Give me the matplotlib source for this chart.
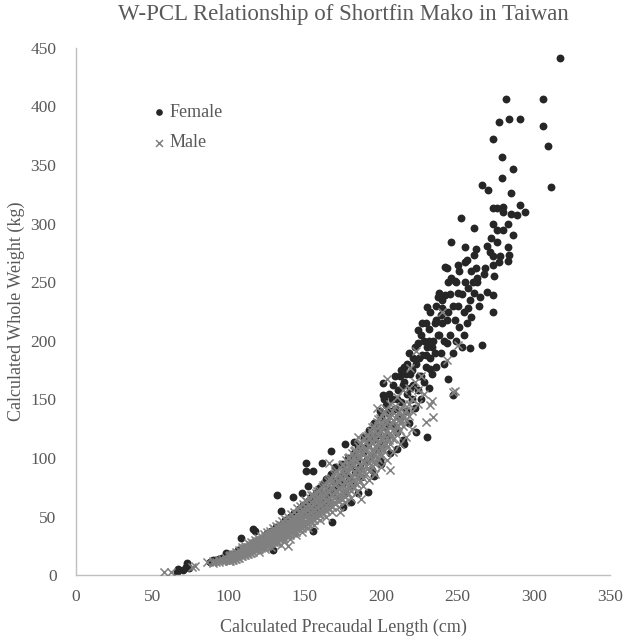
import matplotlib.pyplot as plt

# (precaudal length cm, whole weight kg)
female_points = [
    (66, 3), (67, 5), (70, 4), (72, 7), (73, 10), (74, 6), (88, 11), (90, 13),
    (92, 13), (94, 14), (96, 15), (98, 19), (100, 16), (101, 14), (103, 18),
    (105, 17), (106, 21), (108, 32), (109, 20), (111, 23), (113, 22), (114, 26),
    (116, 39), (117, 38), (118, 25), (119, 29), (121, 28), (122, 32), (124, 30),
    (125, 36), (127, 33), (128, 38), (129, 21), (130, 35), (131, 41), (132, 68),
    (133, 37), (134, 55), (135, 44), (136, 40), (137, 47), (139, 43), (140, 50),
    (141, 45), (142, 67), (143, 53), (144, 48), (146, 56), (147, 51), (148, 70),
    (149, 60), (150, 54), (151, 89), (151, 96), (152, 76), (152, 63), (153, 58),
    (154, 67), (155, 89), (155, 52), (155, 38), (156, 61), (157, 70), (158, 57),
    (159, 74), (160, 65), (161, 96), (161, 58), (162, 78), (163, 68), (164, 82),
    (165, 62), (166, 73), (167, 106), (167, 86), (168, 70), (168, 45), (169, 80),
    (170, 92), (171, 75), (172, 66), (173, 84), (174, 95), (175, 79), (175, 58),
    (176, 112), (176, 70), (177, 89), (178, 100), (179, 83), (180, 94), (180, 62),
    (181, 76), (182, 114), (182, 104), (183, 88), (184, 98), (185, 110), (185, 70),
    (186, 92), (187, 84), (188, 105), (189, 118), (190, 97), (191, 112), (191, 71),
    (192, 124), (193, 102), (193, 118), (194, 90), (195, 116), (195, 85), (195, 130),
    (196, 130), (197, 108), (197, 125), (198, 120), (199, 98), (199, 140), (200, 135),
    (200, 95), (201, 164), (201, 154), (201, 112), (202, 126), (202, 150), (203, 145),
    (204, 118), (204, 130), (205, 138), (205, 155), (206, 104), (206, 140), (207, 150),
    (208, 128), (208, 162), (209, 142), (209, 170), (210, 122), (210, 108), (210, 150),
    (211, 158), (212, 134), (212, 170), (213, 148), (213, 175), (214, 115), (214, 162),
    (215, 165), (215, 112), (215, 178), (216, 140), (216, 172), (217, 155), (217, 180),
    (218, 130), (218, 190), (219, 172), (219, 160), (220, 150), (220, 175), (221, 162),
    (221, 185), (222, 143), (222, 195), (223, 180), (223, 122), (224, 209), (224, 198),
    (224, 158), (225, 170), (225, 185), (226, 150), (226, 205), (226, 170), (227, 188),
    (227, 215), (228, 165), (228, 200), (229, 178), (229, 215), (229, 188), (230, 229),
    (230, 195), (230, 118), (231, 160), (231, 210), (231, 200), (232, 185), (232, 225),
    (232, 176), (233, 172), (233, 195), (234, 200), (235, 190), (235, 215), (236, 178),
    (236, 230), (236, 218), (237, 237), (237, 205), (238, 241), (238, 205), (239, 190),
    (239, 222), (240, 215), (240, 235), (240, 228), (241, 180), (241, 200), (242, 239),
    (242, 263), (243, 262), (243, 198), (243, 218), (244, 167), (244, 225), (244, 250),
    (245, 205), (245, 240), (246, 254), (246, 284), (247, 154), (247, 190), (247, 230),
    (248, 251), (248, 218), (249, 200), (249, 250), (250, 241), (250, 230), (250, 265),
    (251, 212), (251, 260), (252, 305), (253, 195), (253, 240), (254, 225), (254, 205),
    (255, 267), (255, 250), (255, 280), (256, 269), (256, 215), (257, 245), (257, 228),
    (258, 194), (258, 235), (259, 220), (259, 260), (260, 250), (261, 273), (261, 296),
    (261, 241), (262, 278), (262, 262), (263, 254), (263, 250), (264, 230), (265, 237),
    (266, 196), (266, 333), (267, 257), (268, 262), (269, 281), (269, 242), (270, 329),
    (271, 276), (272, 288), (273, 239), (273, 225), (273, 265), (273, 272), (273, 300),
    (273, 313), (273, 372), (274, 255), (276, 313), (276, 295), (276, 284), (277, 267),
    (277, 387), (278, 272), (279, 357), (279, 339), (280, 314), (280, 310), (280, 295),
    (282, 406), (283, 300), (283, 280), (283, 268), (284, 273), (284, 389), (285, 326),
    (285, 308), (286, 290), (286, 347), (289, 307), (291, 316), (291, 389), (294, 310),
    (306, 406), (306, 383), (309, 366), (311, 331), (317, 441),
]

male_points = [
    (58, 3), (62, 3), (76, 7), (78, 8), (86, 11), (90, 10), (90, 12), (92, 11),
    (94, 13), (94, 11), (96, 12), (96, 14), (98, 13), (98, 15), (100, 12), (100, 14),
    (100, 16), (101, 12), (101, 15), (101, 17), (102, 13), (102, 15), (102, 17),
    (103, 13), (103, 16), (103, 18), (104, 14), (104, 16), (104, 18), (105, 14),
    (105, 17), (105, 20), (106, 15), (106, 17), (106, 19), (107, 15), (107, 18),
    (107, 21), (108, 16), (108, 18), (108, 20), (109, 16), (109, 19), (109, 22),
    (109, 24), (110, 17), (110, 19), (110, 21), (110, 23), (111, 17), (111, 20),
    (111, 23), (111, 25), (112, 18), (112, 20), (112, 22), (112, 24), (113, 18),
    (113, 21), (113, 24), (113, 27), (114, 19), (114, 21), (114, 24), (114, 26),
    (115, 19), (115, 23), (115, 26), (115, 28), (116, 20), (116, 23), (116, 25),
    (116, 27), (117, 21), (117, 24), (117, 27), (117, 30), (118, 22), (118, 24),
    (118, 27), (118, 29), (119, 22), (119, 26), (119, 29), (119, 32), (120, 20),
    (120, 22), (120, 25), (120, 27), (120, 30), (121, 23), (121, 27), (121, 30),
    (121, 33), (122, 24), (122, 26), (122, 29), (122, 31), (123, 24), (123, 28),
    (123, 31), (123, 35), (124, 22), (124, 25), (124, 27), (124, 30), (124, 33),
    (125, 25), (125, 29), (125, 33), (125, 37), (126, 26), (126, 29), (126, 31),
    (126, 34), (127, 27), (127, 31), (127, 35), (127, 38), (128, 24), (128, 27),
    (128, 30), (128, 33), (128, 36), (129, 28), (129, 32), (129, 36), (129, 40),
    (130, 28), (130, 31), (130, 34), (130, 37), (130, 39), (131, 29), (131, 34),
    (131, 38), (131, 42), (132, 27), (132, 29), (132, 33), (132, 35), (132, 38),
    (132, 41), (133, 31), (133, 35), (133, 39), (133, 44), (134, 26), (134, 31),
    (134, 34), (134, 37), (134, 40), (134, 43), (135, 32), (135, 37), (135, 41),
    (135, 46), (136, 29), (136, 32), (136, 35), (136, 38), (136, 41), (136, 44),
    (137, 34), (137, 39), (137, 43), (137, 48), (138, 33), (138, 36), (138, 40),
    (138, 43), (138, 46), (139, 25), (139, 35), (139, 40), (139, 45), (139, 50),
    (140, 31), (140, 34), (140, 38), (140, 41), (140, 44), (140, 48), (141, 37),
    (141, 42), (141, 47), (141, 52), (142, 36), (142, 39), (142, 43), (142, 46),
    (142, 50), (143, 38), (143, 44), (143, 49), (143, 54), (144, 34), (144, 37),
    (144, 41), (144, 45), (144, 48), (144, 52), (145, 40), (145, 46), (145, 51),
    (145, 57), (146, 39), (146, 43), (146, 46), (146, 50), (146, 54), (147, 42),
    (147, 48), (147, 53), (147, 59), (148, 37), (148, 40), (148, 44), (148, 48),
    (148, 52), (148, 56), (149, 43), (149, 49), (149, 55), (149, 61), (150, 42),
    (150, 46), (150, 50), (150, 54), (150, 58), (150, 64), (151, 45), (151, 51),
    (151, 57), (151, 63), (152, 40), (152, 44), (152, 48), (152, 52), (152, 56),
    (152, 60), (153, 47), (153, 53), (153, 59), (153, 66), (154, 45), (154, 50),
    (154, 54), (154, 58), (154, 62), (154, 68), (155, 48), (155, 55), (155, 61),
    (155, 68), (156, 43), (156, 47), (156, 51), (156, 56), (156, 60), (156, 65),
    (157, 50), (157, 57), (157, 64), (157, 70), (158, 49), (158, 53), (158, 58),
    (158, 62), (158, 67), (158, 72), (159, 52), (159, 59), (159, 66), (159, 73),
    (160, 47), (160, 51), (160, 55), (160, 60), (160, 64), (160, 69), (161, 54),
    (161, 61), (161, 68), (161, 75), (162, 53), (162, 57), (162, 62), (162, 67),
    (162, 72), (162, 77), (163, 56), (163, 63), (163, 70), (163, 78), (164, 50),
    (164, 55), (164, 60), (164, 64), (164, 69), (164, 74), (165, 58), (165, 65),
    (165, 73), (165, 80), (166, 56), (166, 62), (166, 67), (166, 71), (166, 77),
    (166, 82), (166, 96), (167, 60), (167, 68), (167, 75), (167, 83), (168, 54),
    (168, 58), (168, 64), (168, 69), (168, 74), (168, 80), (169, 62), (169, 70),
    (169, 78), (169, 86), (170, 61), (170, 66), (170, 72), (170, 77), (170, 83),
    (170, 88), (171, 64), (171, 72), (171, 80), (171, 89), (172, 58), (172, 63),
    (172, 69), (172, 74), (172, 80), (172, 86), (173, 54), (173, 66), (173, 75),
    (173, 83), (173, 92), (174, 65), (174, 71), (174, 77), (174, 82), (174, 89),
    (174, 94), (175, 69), (175, 77), (175, 86), (175, 95), (176, 62), (176, 67),
    (176, 73), (176, 80), (176, 85), (176, 92), (177, 71), (177, 80), (177, 89),
    (177, 98), (178, 70), (178, 76), (178, 82), (178, 88), (178, 95), (178, 100),
    (179, 74), (179, 83), (179, 92), (179, 101), (180, 66), (180, 72), (180, 79),
    (180, 85), (180, 91), (180, 98), (181, 76), (181, 85), (181, 95), (181, 104),
    (182, 75), (182, 81), (182, 88), (182, 94), (182, 101), (182, 106), (183, 79),
    (183, 88), (183, 98), (183, 107), (184, 71), (184, 78), (184, 84), (184, 91),
    (184, 97), (184, 104), (185, 82), (185, 91), (185, 101), (185, 110), (185, 118),
    (186, 80), (186, 87), (186, 94), (186, 100), (186, 108), (186, 112), (187, 65),
    (187, 85), (187, 94), (187, 104), (187, 113), (188, 76), (188, 83), (188, 90),
    (188, 97), (188, 104), (188, 111), (189, 88), (189, 97), (189, 107), (189, 117),
    (190, 86), (190, 93), (190, 100), (190, 107), (190, 114), (190, 119), (191, 91),
    (191, 100), (191, 110), (191, 120), (192, 81), (192, 89), (192, 96), (192, 103),
    (192, 110), (192, 117), (193, 94), (193, 104), (193, 114), (193, 123), (194, 92),
    (194, 99), (194, 106), (194, 113), (194, 120), (194, 126), (195, 97), (195, 107),
    (195, 117), (195, 127), (196, 86), (196, 95), (196, 103), (196, 110), (196, 116),
    (196, 124), (197, 101), (197, 111), (197, 121), (197, 131), (197, 143), (198, 99),
    (198, 106), (198, 113), (198, 120), (198, 127), (198, 133), (199, 104), (199, 114),
    (199, 124), (199, 134), (200, 92), (200, 102), (200, 109), (200, 116), (200, 123),
    (200, 131), (201, 108), (201, 118), (201, 128), (201, 138), (202, 106), (202, 113),
    (202, 120), (202, 127), (202, 140), (203, 112), (203, 122), (203, 132), (203, 142),
    (204, 98), (204, 109), (204, 117), (204, 124), (204, 131), (204, 167), (205, 115),
    (205, 126), (205, 136), (206, 90), (206, 112), (206, 121), (206, 128), (206, 135),
    (206, 146), (207, 119), (207, 130), (207, 140), (208, 105), (208, 116), (208, 124),
    (208, 132), (209, 123), (209, 134), (209, 144), (210, 120), (210, 128), (210, 136),
    (210, 152), (211, 127), (211, 138), (212, 112), (212, 124), (212, 133), (213, 131),
    (213, 142), (214, 127), (214, 137), (214, 158), (215, 135), (215, 146), (216, 118),
    (216, 132), (216, 141), (218, 136), (218, 146), (218, 160), (219, 177), (220, 125),
    (220, 140), (220, 150), (222, 165), (223, 191), (224, 146), (224, 158), (226, 170),
    (228, 155), (229, 131), (232, 145), (233, 149), (234, 135), (240, 225), (243, 184),
    (247, 156), (248, 157), (250, 196),
]

female_pcl, female_wt = zip(*female_points)
male_pcl, male_wt = zip(*male_points)

text_grey = "#595959"
plt.rcParams["font.family"] = ["Liberation Serif", "DejaVu Serif"]

fig = plt.figure(figsize=(6.33, 6.39), dpi=100)
ax = fig.add_axes([0.120, 0.100, 0.844, 0.825])

ax.scatter(female_pcl, female_wt, s=32, color="#262626", marker="o",
           linewidths=0, label="Female", zorder=2)
ax.scatter(male_pcl, male_wt, s=34, color="#808080", marker="x",
           linewidths=1.1, label="Male", zorder=3)

ax.set_xlim(0, 350)
ax.set_ylim(0, 450)
ax.set_xticks(range(0, 351, 50))
ax.set_yticks(range(0, 451, 50))
ax.tick_params(length=0, labelsize=12.5, colors=text_grey)
ax.tick_params(axis="y", pad=14)
ax.tick_params(axis="x", pad=10)

for side in ["top", "right"]:
    ax.spines[side].set_visible(False)
for side in ["left", "bottom"]:
    ax.spines[side].set_color("#bfbfbf")
    ax.spines[side].set_linewidth(1.0)

ax.set_title("W-PCL Relationship of Shortfin Mako in Taiwan",
             fontsize=16.5, color=text_grey, pad=20)
ax.set_xlabel("Calculated Precaudal Length (cm)", fontsize=13,
              color=text_grey, labelpad=10)
ax.set_ylabel("Calculated Whole Weight (kg)", fontsize=13,
              color=text_grey, labelpad=4)

leg = ax.legend(loc="upper left", bbox_to_anchor=(0.115, 0.925), frameon=False,
                fontsize=13, handlelength=0.6, handletextpad=0.3,
                labelspacing=0.75, markerscale=0.85)
for t in leg.get_texts():
    t.set_color(text_grey)

fig.savefig("out.png", dpi=100)
